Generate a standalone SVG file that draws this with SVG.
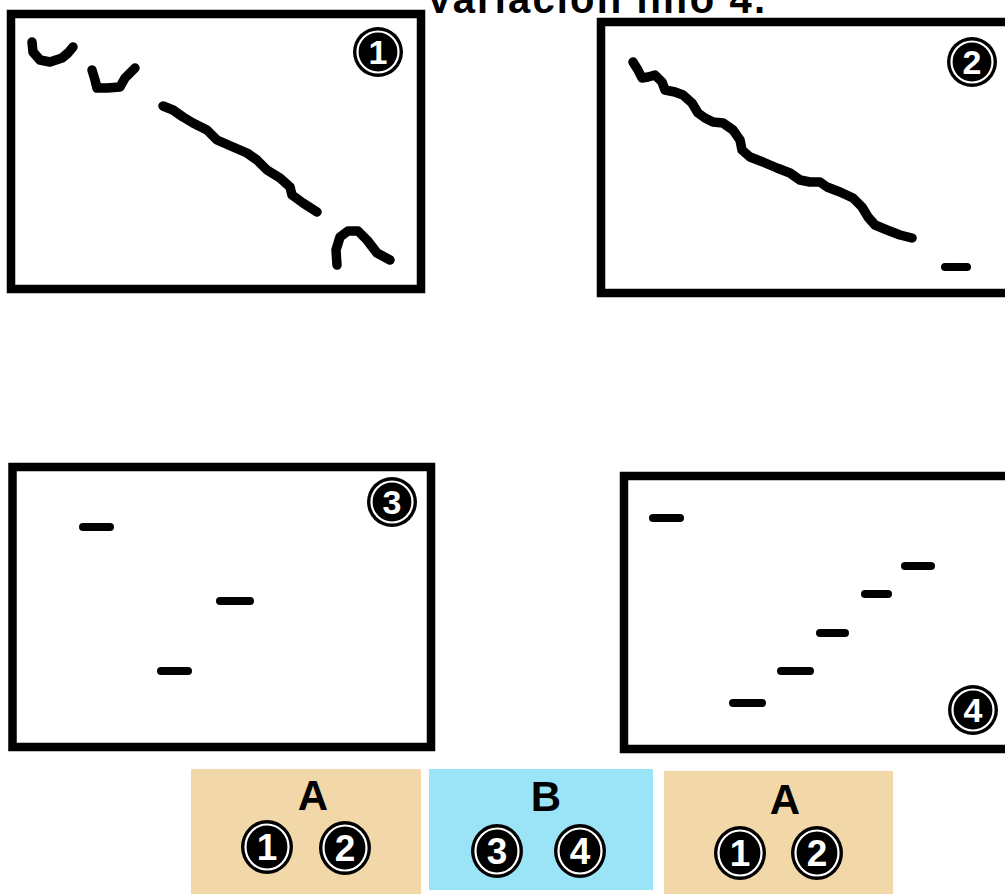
<svg xmlns="http://www.w3.org/2000/svg" width="1005" height="894" viewBox="0 0 1005 894">
<style>
.frame{fill:#fff;stroke:#000;stroke-width:8.5}
.ink{fill:none;stroke:#000;stroke-width:9.5;stroke-linecap:round;stroke-linejoin:round}
.dash{stroke:#000;stroke-width:8;stroke-linecap:round}
.bdisc{fill:#000}
.bring{fill:none;stroke:#fff;stroke-width:2.2}
.bnum{fill:#fff;font-family:"Liberation Sans",Arial,sans-serif;font-weight:bold;font-size:34px;text-anchor:middle}
.bnum2{fill:#fff;font-family:"Liberation Sans",Arial,sans-serif;font-weight:bold;font-size:37px;text-anchor:middle}
.lbl{fill:#000;font-family:"Liberation Sans",Arial,sans-serif;font-weight:bold;font-size:42px;text-anchor:middle}
.title{fill:#000;font-family:"Liberation Sans",Arial,sans-serif;font-weight:bold;font-size:40px}
.tan{fill:#f2d8a9}
.blue{fill:#9be3f6}
</style>
<rect width="1005" height="894" fill="#fff"/>
<text class="title" x="426" y="13" textLength="339" lengthAdjust="spacing">Variación hilo 4.</text>

<g id="panel1">
<rect class="frame" x="11" y="14" width="410" height="275"/>
<path class="ink" d="M32,42 L33,52 L40,60 L50,62 L62,58 L68,53 L73,47"/>
<path class="ink" d="M92,70 L95,80 L97,88 L107,88 L120,87 L125,78 L135,68"/>
<path class="ink" d="M163,106 L173,110 L183,117 L193,123 L207,130 L217,140 L233,147 L247,153 L257,160 L267,170 L280,178 L290,187 L292,195 L303,203 L317,212"/>
<path class="ink" d="M337,265 L336,250 L340,237 L348,231 L358,231 L367,240 L377,253 L390,260"/>
<g transform="translate(378,52)"><circle class="bdisc" r="25"/><circle class="bring" r="20.5"/><text class="bnum" y="12">1</text></g>
</g>

<g id="panel2">
<rect class="frame" x="601" y="22" width="420" height="271"/>
<path class="ink" d="M633,62 L638,70 L642,78 L648,77 L655,75 L662,82 L665,90 L675,92 L683,95 L692,103 L698,113 L705,118 L713,122 L723,123 L733,130 L740,140 L742,150 L750,157 L763,162 L777,168 L790,173 L800,180 L810,182 L820,182 L827,187 L840,192 L853,198 L862,207 L868,217 L875,225 L887,230 L900,235 L912,238"/>
<line class="dash" x1="945" y1="267" x2="967" y2="267"/>
<g transform="translate(972,62)"><circle class="bdisc" r="25"/><circle class="bring" r="20.5"/><text class="bnum" y="12">2</text></g>
</g>

<g id="panel3">
<rect class="frame" x="12.5" y="467" width="418.5" height="280"/>
<line class="dash" x1="83" y1="527" x2="110" y2="527"/>
<line class="dash" x1="220" y1="601" x2="250" y2="601"/>
<line class="dash" x1="161" y1="671" x2="188" y2="671"/>
<g transform="translate(392,502)"><circle class="bdisc" r="25"/><circle class="bring" r="20.5"/><text class="bnum" y="12">3</text></g>
</g>

<g id="panel4">
<rect class="frame" x="624" y="476" width="400" height="273"/>
<line class="dash" x1="653" y1="518" x2="680" y2="518"/>
<line class="dash" x1="905" y1="566" x2="931" y2="566"/>
<line class="dash" x1="865" y1="594" x2="888" y2="594"/>
<line class="dash" x1="820" y1="633" x2="845" y2="633"/>
<line class="dash" x1="781" y1="671" x2="810" y2="671"/>
<line class="dash" x1="733" y1="703" x2="762" y2="703"/>
<g transform="translate(973,710)"><circle class="bdisc" r="25"/><circle class="bring" r="20.5"/><text class="bnum" y="12">4</text></g>
</g>

<g id="boxA1">
<rect class="tan" x="191" y="769" width="230" height="125"/>
<text class="lbl" x="313" y="810">A</text>
<g transform="translate(267,847)"><ellipse class="bdisc" rx="26" ry="27"/><ellipse class="bring" rx="21.5" ry="22.5"/><text class="bnum2" y="13">1</text></g>
<g transform="translate(345,848)"><ellipse class="bdisc" rx="26" ry="27"/><ellipse class="bring" rx="21.5" ry="22.5"/><text class="bnum2" y="13">2</text></g>
</g>

<g id="boxB">
<rect class="blue" x="429" y="769" width="224" height="121"/>
<text class="lbl" x="546" y="811">B</text>
<g transform="translate(497,851)"><ellipse class="bdisc" rx="26" ry="27"/><ellipse class="bring" rx="21.5" ry="22.5"/><text class="bnum2" y="13">3</text></g>
<g transform="translate(580,851)"><ellipse class="bdisc" rx="26" ry="27"/><ellipse class="bring" rx="21.5" ry="22.5"/><text class="bnum2" y="13">4</text></g>
</g>

<g id="boxA2">
<rect class="tan" x="664" y="771" width="229" height="123"/>
<text class="lbl" x="785" y="814">A</text>
<g transform="translate(740,853)"><ellipse class="bdisc" rx="26" ry="27"/><ellipse class="bring" rx="21.5" ry="22.5"/><text class="bnum2" y="13">1</text></g>
<g transform="translate(817,853)"><ellipse class="bdisc" rx="26" ry="27"/><ellipse class="bring" rx="21.5" ry="22.5"/><text class="bnum2" y="13">2</text></g>
</g>
</svg>
